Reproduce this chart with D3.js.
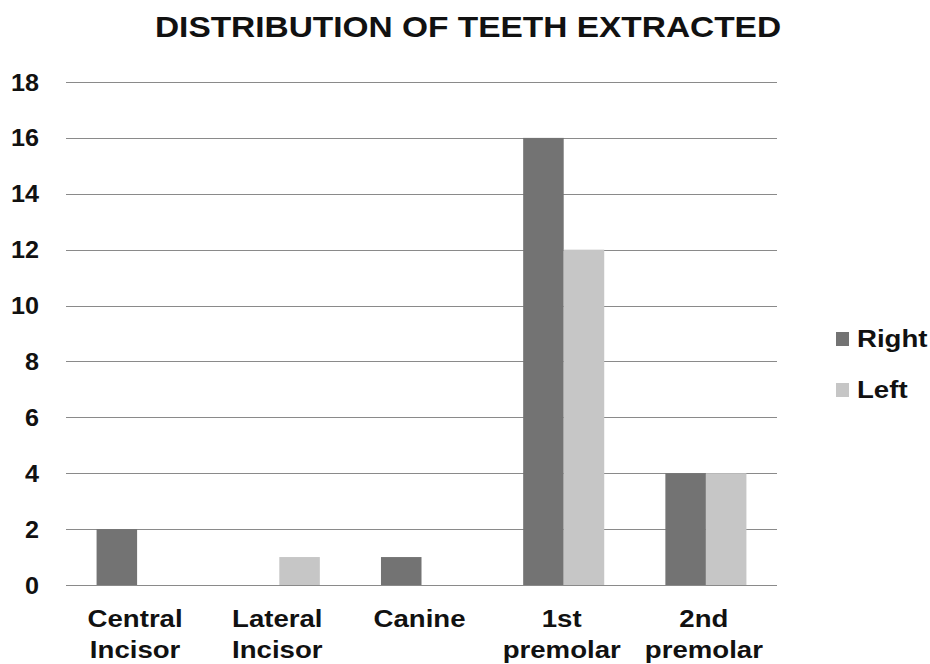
<!DOCTYPE html>
<html><head><meta charset="utf-8">
<script src="https://cdn.jsdelivr.net/npm/d3@7/dist/d3.min.js"></script>
<style>body{margin:0;background:#fff}svg{display:block}text{font-family:"Liberation Sans",Arial,sans-serif;font-weight:bold;fill:#111}</style>
</head><body>
<script>
const categories = [["Central","Incisor"],["Lateral","Incisor"],["Canine"],["1st","premolar"],["2nd","premolar"]];
const series = ["Right","Left"];
const rightValues = [2,0,1,16,4];
const leftValues = [0,1,0,12,4];
const yTicks = [0,2,4,6,8,10,12,14,16,18];
const colors = {Right:"#737373", Left:"#c6c6c6"};

const W=930,H=664;
const m={left:66,right:153,top:82,bottom:79};
const svg=d3.select("body").append("svg").attr("width",W).attr("height",H);
const catKeys=categories.map(c=>c.join(" "));
const x0=d3.scaleBand().domain(catKeys).range([m.left,W-m.right]).paddingInner(0.43).paddingOuter(0.215);
const x1=d3.scaleBand().domain(series).range([0,x0.bandwidth()]);
const y=d3.scaleLinear().domain([0,18]).range([H-m.bottom,m.top]);

// gridlines
svg.append("g").selectAll("line").data(yTicks).join("line")
  .attr("x1",m.left).attr("x2",W-m.right)
  .attr("y1",d=>Math.round(y(d))+0.5).attr("y2",d=>Math.round(y(d))+0.5)
  .attr("stroke","#8a8a8a").attr("stroke-width",1.2);

// y labels
svg.append("g").selectAll("text").data(yTicks).join("text")
  .attr("transform",d=>`translate(39,${y(d)+8.5}) scale(1.05,1)`).attr("text-anchor","end")
  .style("font-size","24px").text(d=>d);

// bars
const data=catKeys.map((k,i)=>({k,Right:rightValues[i],Left:leftValues[i]}));
const g=svg.append("g").selectAll("g").data(data).join("g").attr("transform",d=>`translate(${x0(d.k)},0)`);
g.selectAll("rect").data(d=>series.map(s=>({s,v:d[s]}))).join("rect")
  .attr("x",d=>x1(d.s)).attr("width",x1.bandwidth())
  .attr("y",d=>y(d.v)).attr("height",d=>y(0)-y(d.v))
  .attr("fill",d=>colors[d.s]);

// category labels
const cl=svg.append("g").selectAll("text").data(categories).join("text")
  .attr("text-anchor","middle").style("font-size","24px")
  .attr("transform",(d,i)=>`translate(${x0(catKeys[i])+x0.bandwidth()/2-2},0) scale(1.15,1)`);
cl.selectAll("tspan").data(d=>d).join("tspan").attr("x",0).attr("y",(d,i)=>627+i*31).text(d=>d);

// title
svg.append("text").attr("transform","translate(468,37) scale(1.115,1)").attr("text-anchor","middle")
  .style("font-size","30px").text("DISTRIBUTION OF TEETH EXTRACTED");

// legend
const lg=svg.append("g").selectAll("g").data(series).join("g").attr("transform",(d,i)=>`translate(836,${332+i*51})`);
lg.append("rect").attr("width",13).attr("height",14).attr("fill",d=>colors[d]);
lg.append("text").attr("transform","translate(21,15) scale(1.15,1)").style("font-size","24px").text(d=>d);
</script>
</body></html>
